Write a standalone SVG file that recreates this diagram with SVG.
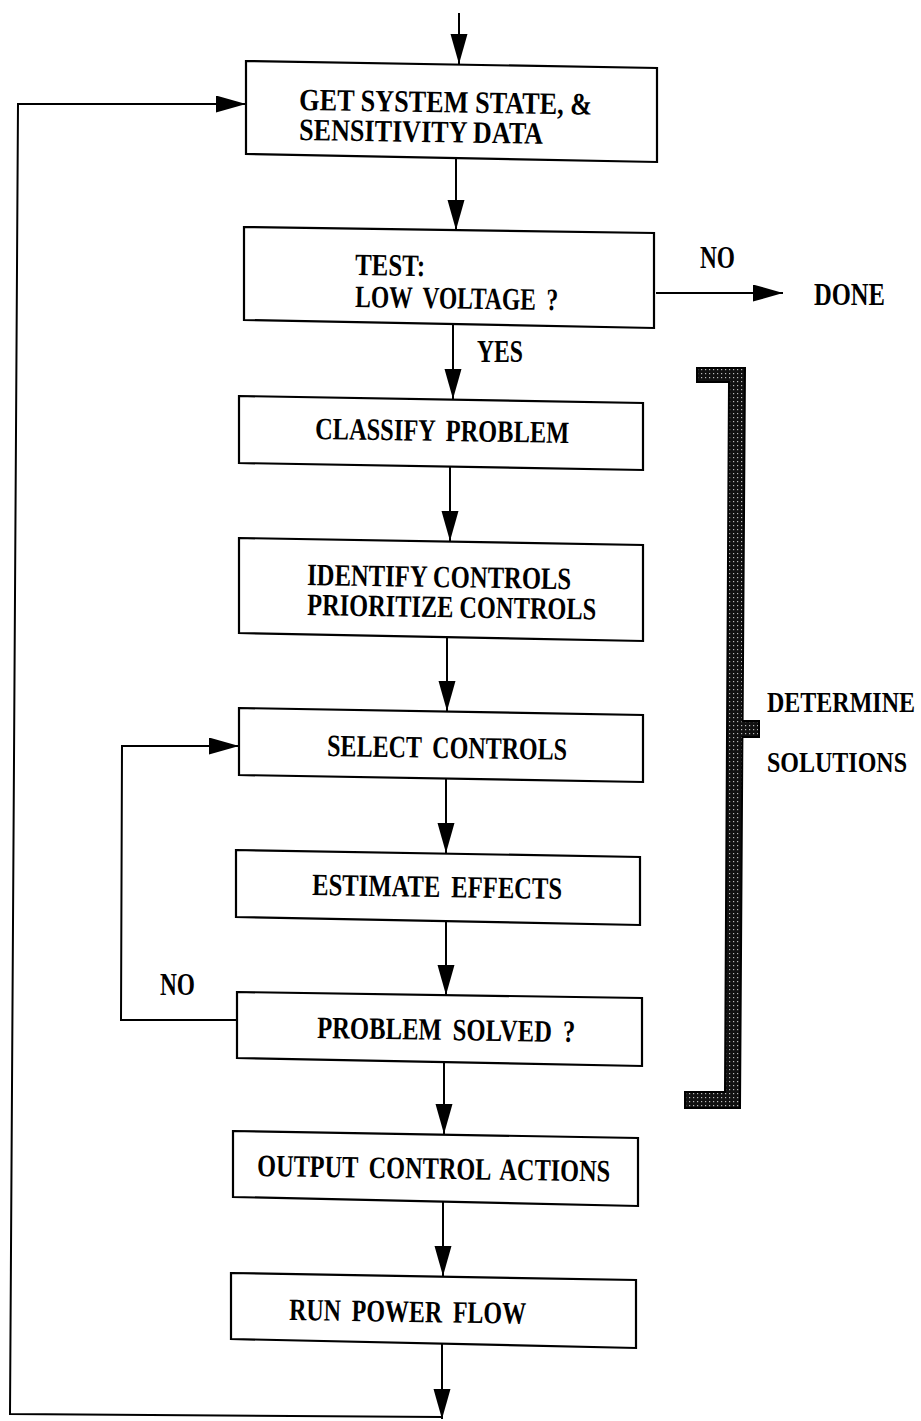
<svg xmlns="http://www.w3.org/2000/svg" width="921" height="1421" viewBox="0 0 921 1421">
<style>
.box{fill:#fff;stroke:#000;stroke-width:2.2}
.ln{fill:none;stroke:#000;stroke-width:2}
.t{font-family:"Liberation Serif","DejaVu Serif",serif;font-weight:bold;font-size:31px;fill:#000}
.s{font-family:"Liberation Serif","DejaVu Serif",serif;font-weight:bold;font-size:24px;fill:#000}
.w{word-spacing:6px}
</style>
<defs>
<marker id="ah" markerUnits="userSpaceOnUse" markerWidth="31" markerHeight="18" refX="30" refY="8.5" orient="auto" viewBox="0 0 31 18">
<path d="M0,0 L30,8.5 L0,17 z" fill="#000"/>
</marker>
<pattern id="dots" patternUnits="userSpaceOnUse" width="4" height="4">
<rect width="4" height="4" fill="#111"/>
<rect x="1" y="1" width="1.2" height="1.2" fill="#bbb"/>
</pattern>
</defs>
<rect width="921" height="1421" fill="#fff"/>

<g id="connectors">
<line class="ln" x1="459" y1="13" x2="459" y2="64" marker-end="url(#ah)"/>
<line class="ln" x1="456" y1="158" x2="456" y2="230" marker-end="url(#ah)"/>
<line class="ln" x1="453" y1="324" x2="453" y2="399" marker-end="url(#ah)"/>
<line class="ln" x1="450" y1="467" x2="450" y2="541" marker-end="url(#ah)"/>
<line class="ln" x1="447" y1="637" x2="447" y2="711" marker-end="url(#ah)"/>
<line class="ln" x1="446" y1="779" x2="446" y2="853" marker-end="url(#ah)"/>
<line class="ln" x1="446" y1="921" x2="446" y2="995" marker-end="url(#ah)"/>
<line class="ln" x1="444" y1="1062" x2="444" y2="1134" marker-end="url(#ah)"/>
<line class="ln" x1="443" y1="1202" x2="443" y2="1276" marker-end="url(#ah)"/>
<line class="ln" x1="442" y1="1343" x2="442" y2="1419" marker-end="url(#ah)"/>
<line class="ln" x1="656" y1="293" x2="783" y2="293" marker-end="url(#ah)"/>
<path class="ln" d="M442,1417 L10,1414 L18,104 L246,104" marker-end="url(#ah)"/>
<path class="ln" d="M237,1020 L121,1020 L122,746 L239,746" marker-end="url(#ah)"/>
</g>

<g id="n1"><polygon class="box" points="246,61 657,68 657,162 246,154"/>
<text class="t" x="299" y="110" textLength="293" lengthAdjust="spacingAndGlyphs" transform="rotate(0.9 299 110)">GET SYSTEM STATE, &amp;</text>
<text class="t" x="299" y="140" textLength="244" lengthAdjust="spacingAndGlyphs" transform="rotate(0.9 299 140)">SENSITIVITY DATA</text></g>

<g id="n2"><polygon class="box" points="244,227 654,233 654,328 244,320"/>
<text class="t" x="355" y="275" textLength="70" lengthAdjust="spacingAndGlyphs" transform="rotate(0.9 355 275)">TEST:</text>
<text class="t w" x="355" y="307" textLength="203" lengthAdjust="spacingAndGlyphs" transform="rotate(0.9 355 307)">LOW VOLTAGE ?</text></g>

<g id="done"><text class="t" x="814" y="305" textLength="71" lengthAdjust="spacingAndGlyphs">DONE</text></g>
<g id="lbl-no1"><text class="t" x="700" y="268" textLength="35" lengthAdjust="spacingAndGlyphs">NO</text></g>
<g id="lbl-yes"><text class="t" x="477" y="362" textLength="46" lengthAdjust="spacingAndGlyphs">YES</text></g>

<g id="n3"><polygon class="box" points="239,396 643,403 643,470 239,463"/>
<text class="t w" x="315" y="439" textLength="254" lengthAdjust="spacingAndGlyphs" transform="rotate(0.9 315 439)">CLASSIFY PROBLEM</text></g>

<g id="n4"><polygon class="box" points="239,538 643,545 643,641 239,633"/>
<text class="t" x="307" y="585" textLength="264" lengthAdjust="spacingAndGlyphs" transform="rotate(0.9 307 585)">IDENTIFY CONTROLS</text>
<text class="t" x="307" y="615" textLength="289" lengthAdjust="spacingAndGlyphs" transform="rotate(0.9 307 615)">PRIORITIZE CONTROLS</text></g>

<g id="n5"><polygon class="box" points="239,708 643,715 643,782 239,775"/>
<text class="t w" x="327" y="756" textLength="240" lengthAdjust="spacingAndGlyphs" transform="rotate(0.9 327 756)">SELECT CONTROLS</text></g>

<g id="n6"><polygon class="box" points="236,850 640,857 640,925 236,917"/>
<text class="t w" x="312" y="895" textLength="250" lengthAdjust="spacingAndGlyphs" transform="rotate(0.9 312 895)">ESTIMATE EFFECTS</text></g>

<g id="n7"><polygon class="box" points="237,992 642,998 642,1066 237,1058"/>
<text class="t w" x="317" y="1038" textLength="258" lengthAdjust="spacingAndGlyphs" transform="rotate(0.9 317 1038)">PROBLEM SOLVED ?</text></g>
<g id="lbl-no2"><text class="t" x="160" y="995" textLength="35" lengthAdjust="spacingAndGlyphs">NO</text></g>

<g id="n8"><polygon class="box" points="233,1131 638,1138 638,1206 233,1197"/>
<text class="t w" x="257" y="1176" textLength="353" lengthAdjust="spacingAndGlyphs" transform="rotate(0.9 257 1176)">OUTPUT CONTROL ACTIONS</text></g>

<g id="n9"><polygon class="box" points="231,1273 636,1280 636,1348 231,1339"/>
<text class="t w" x="289" y="1320" textLength="237" lengthAdjust="spacingAndGlyphs" transform="rotate(0.9 289 1320)">RUN POWER FLOW</text></g>

<g id="bracket">
<polygon points="697,368 745,368 742.6,721 759,721 759,737 742.4,737 740,1108 685,1108 685,1092 725,1092 729,382 697,382" fill="url(#dots)" stroke="#000" stroke-width="2"/>
<text class="s" transform="translate(767 712) scale(1 1.25)">DETERMINE</text>
<text class="s" transform="translate(767 772) scale(1 1.25)">SOLUTIONS</text>
</g>
</svg>
